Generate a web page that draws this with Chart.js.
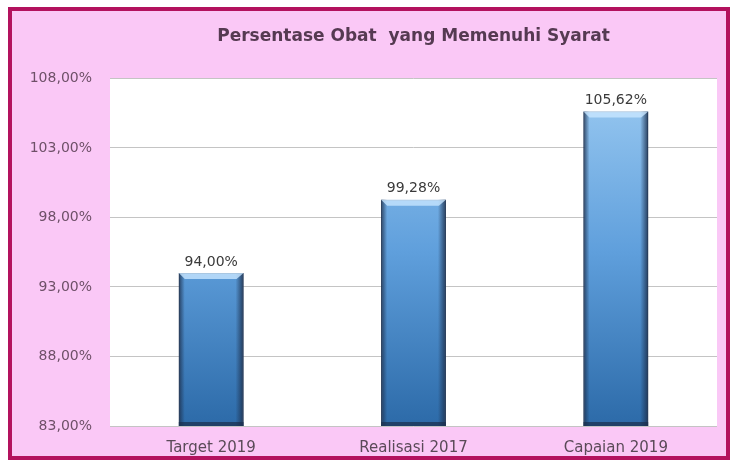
<!DOCTYPE html>
<html>
<head>
<meta charset="utf-8">
<script src="https://cdn.jsdelivr.net/npm/chart.js@4"></script>
<style>
  html, body { margin: 0; padding: 0; background: #fff; }
  #wrap { width: 735px; height: 467px; }
</style>
</head>
<body>
<div id="wrap"><canvas id="chart" width="735" height="467"></canvas></div>
<script>
// data
const categories = ['Target 2019', 'Realisasi 2017', 'Capaian 2019'];
const values = [94.00, 99.28, 105.62];
const yMin = 83, yMax = 108, yStep = 5;

const fmt = v => v.toFixed(2).replace('.', ',') + '%';

// pink card + magenta frame + white plot area
const background = {
  id: 'background',
  beforeDraw(chart) {
    const ctx = chart.ctx;
    ctx.save();
    ctx.fillStyle = '#fff';
    ctx.fillRect(0, 0, chart.width, chart.height);
    ctx.fillStyle = '#fac8f6';
    ctx.fillRect(10, 9, 718, 449);
    ctx.strokeStyle = '#b3125e';
    ctx.lineWidth = 4;
    ctx.strokeRect(10, 9, 718, 449);
    const a = chart.chartArea;
    ctx.fillStyle = '#ffffff';
    ctx.fillRect(a.left, a.top, a.right - a.left, a.bottom - a.top);
    ctx.restore();
  }
};

// 3d-ish bevel on bars + value labels
const barDecor = {
  id: 'barDecor',
  afterDatasetsDraw(chart) {
    const ctx = chart.ctx;
    const meta = chart.getDatasetMeta(0);
    const bottom = chart.chartArea.bottom;
    ctx.save();
    meta.data.forEach((bar, i) => {
      const p = bar.getProps(['x', 'y', 'base', 'width'], true);
      const x = p.x, y = p.y, width = p.width;
      const base = Math.min(p.base, bottom);
      const l = x - width / 2, r = x + width / 2;
      // left edge
      let g = ctx.createLinearGradient(l, 0, l + 6, 0);
      g.addColorStop(0, 'rgba(30,50,80,0.85)');
      g.addColorStop(1, 'rgba(30,50,80,0)');
      ctx.fillStyle = g;
      ctx.fillRect(l, y, 6, base - y);
      // right edge
      g = ctx.createLinearGradient(r - 8, 0, r, 0);
      g.addColorStop(0, 'rgba(30,50,80,0)');
      g.addColorStop(1, 'rgba(30,50,80,0.9)');
      ctx.fillStyle = g;
      ctx.fillRect(r - 8, y, 8, base - y);
      // top bevel
      ctx.fillStyle = 'rgba(200,230,255,0.8)';
      ctx.beginPath();
      ctx.moveTo(l, y); ctx.lineTo(r, y); ctx.lineTo(r - 7, y + 6); ctx.lineTo(l + 6, y + 6);
      ctx.closePath(); ctx.fill();
      // bottom shade
      ctx.fillStyle = 'rgba(25,45,75,0.7)';
      ctx.fillRect(l, base - 4, width, 4);
      // label
      ctx.fillStyle = '#3a3a3a';
      ctx.font = '14px "DejaVu Sans"';
      ctx.textAlign = 'center';
      ctx.textBaseline = 'bottom';
      ctx.fillText(fmt(values[i]), x, y - 4);
    });
    ctx.restore();
  }
};

const ctx = document.getElementById('chart');
const chart = new Chart(ctx, {
  type: 'bar',
  data: {
    labels: categories,
    datasets: [{
      data: values,
      backgroundColor: c => {
        const a = c.chart.chartArea;
        if (!a) return '#5b9bd5';
        const g = c.chart.ctx.createLinearGradient(0, a.top, 0, a.bottom);
        g.addColorStop(0, '#9ccbf2');
        g.addColorStop(0.5, '#5f9fdc');
        g.addColorStop(1, '#2c6aa8');
        return g;
      },
      borderColor: '#2e4a6e',
      borderWidth: 1,
      barPercentage: 0.32,
      categoryPercentage: 1
    }]
  },
  options: {
    responsive: false,
    animation: false,
    layout: { padding: { left: 20, right: 18, top: 0, bottom: 10 } },
    plugins: {
      legend: { display: false },
      tooltip: { enabled: false },
      title: {
        display: true,
        fullSize: false,
        text: 'Persentase Obat  yang Memenuhi Syarat',
        color: '#553a52',
        font: { family: 'DejaVu Sans', size: 17, weight: 'bold' },
        padding: { top: 26, bottom: 32 }
      }
    },
    scales: {
      x: {
        grid: { display: false },
        border: { display: false },
        ticks: { color: '#5a4a58', font: { family: 'DejaVu Sans', size: 15 }, padding: 5 },
        afterFit: s => { s.height = 31; }
      },
      y: {
        min: yMin,
        max: yMax,
        ticks: {
          stepSize: yStep,
          color: '#6e5068',
          font: { family: 'DejaVu Sans', size: 14 },
          padding: 18,
          callback: v => fmt(v)
        },
        grid: { color: '#c4c4c4', drawTicks: false },
        border: { display: false },
        afterFit: s => { s.width = 90; }
      }
    }
  },
  plugins: [background, barDecor]
});
</script>
</body>
</html>
